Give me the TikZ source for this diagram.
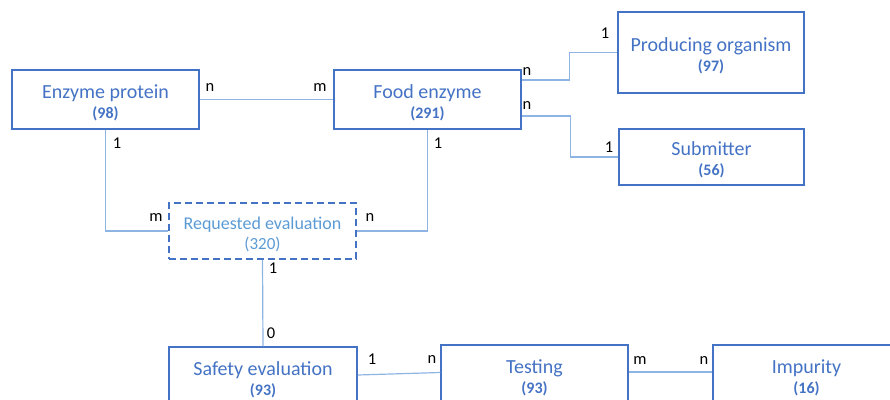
\documentclass[tikz,border=0pt]{standalone}
\usepackage{fontspec}
\setmainfont{Carlito}
\usetikzlibrary{calc}

\definecolor{boxblue}{HTML}{4472C4}
\definecolor{lightblue}{HTML}{5B9BD5}
\definecolor{linkblue}{HTML}{8EB4E3}

\newcommand{\cnt}[1]{\\[-1pt]{\fontsize{16}{18}\selectfont\bfseries #1}}

\begin{document}
\begin{tikzpicture}[
    x=1pt, y=1pt,
    entity/.style={draw=boxblue, line width=1.5pt, text=boxblue, align=center,
      minimum width=187pt, minimum height=59pt, inner sep=0pt,
      font=\fontsize{20}{21}\selectfont},
    link/.style={draw=linkblue, line width=1.2pt},
    card/.style={inner sep=0pt, font=\fontsize{16.5}{18}\selectfont}
  ]
    \clip (0,0) rectangle (890,399);

    \node[entity] (enzprot) at (105.5,299.5) {\rule{0pt}{20pt}Enzyme protein\cnt{(98)}};
    \node[entity] (foodenz) at (427.5,299.5) {\rule{0pt}{20pt}Food enzyme\cnt{(291)}};
    \node[entity, minimum width=186pt, minimum height=81pt] (organism) at (711,346.5)
      {\rule{0pt}{20pt}Producing organism\cnt{(97)}};
    \node[entity, minimum width=185pt, minimum height=56pt] (submitter) at (711.5,242)
      {\rule{0pt}{20pt}Submitter\cnt{(56)}};
    \node[entity, dashed, dash pattern=on 7pt off 4pt, text=lightblue, minimum height=56pt,
      font=\fontsize{18}{21}\selectfont] (reqeval) at (262.5,168)
      {\rule{0pt}{20pt}Requested evaluation\\[-1pt]{\fontsize{17}{18}\selectfont (320)}};
    \node[entity, minimum width=188pt] (safeval) at (263,22.5) {\rule{0pt}{20pt}Safety evaluation\cnt{(93)}};
    \node[entity] (testing) at (534.5,24.5) {\rule{0pt}{20pt}Testing\cnt{(93)}};
    \node[entity] (impurity) at (806.5,24.5) {\rule{0pt}{20pt}Impurity\cnt{(16)}};

    \draw[link] (enzprot) -- (foodenz);
    \draw[link] ([yshift=19.5pt]foodenz.east) -- ++(48,0) |- (organism.west);
    \draw[link] ([yshift=-16.5pt]foodenz.east) -- ++(49,0) |- (submitter.west);
    \draw[link] (enzprot.south) |- (reqeval.west);
    \draw[link] (foodenz.south) |- (reqeval.east);
    \draw[link] (reqeval.south) -- (safeval.north);
    \draw[link] ([yshift=1.5pt]safeval.east) -- ([yshift=2pt]testing.west);
    \draw[link] ([yshift=2.5pt]testing.east) -- ([yshift=2.5pt]impurity.west);

    % cardinalities
    \node[card] (c1) at (210,311) {n};
    \node[card] (c2) at (320,311) {m};
    \node[card] (c3) at (527,327) {n};
    \node[card] (c4) at (605,366) {1};
    \node[card] (c5) at (527,293) {n};
    \node[card] (c6) at (609,252) {1};
    \node[card] (c7) at (117,256) {1};
    \node[card] (c8) at (156,181) {m};
    \node[card] (c9) at (438,256) {1};
    \node[card] (c10) at (370,181) {n};
    \node[card] (c11) at (273,131) {1};
    \node[card] (c12) at (271,66) {0};
    \node[card] (c13) at (372,40) {1};
    \node[card] (c14) at (432,40) {n};
    \node[card] (c15) at (640,39) {m};
    \node[card] (c16) at (704,39) {n};
\end{tikzpicture}
\end{document}
